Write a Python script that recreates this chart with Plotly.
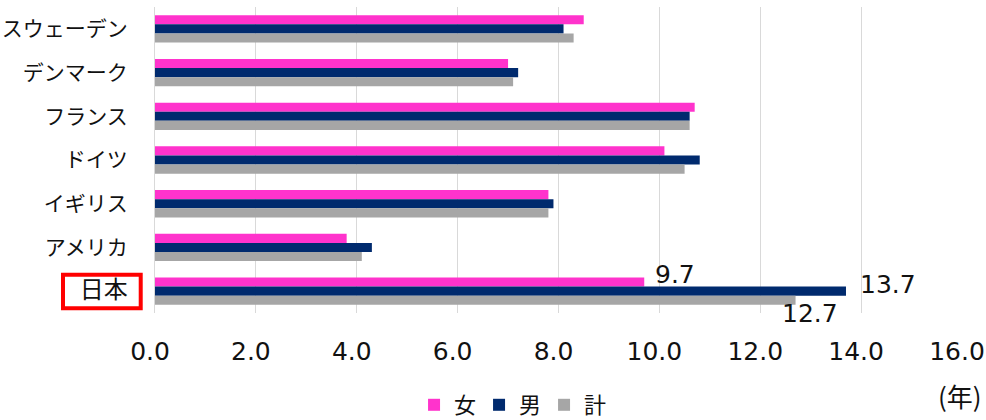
import plotly.graph_objects as go

# Countries, listed top to bottom
countries = ["スウェーデン", "デンマーク", "フランス", "ドイツ", "イギリス", "アメリカ", "日本"]

# Values (years) by sex
women = [8.5, 7.0, 10.7, 10.1, 7.8, 3.8, 9.7]
men = [8.1, 7.2, 10.6, 10.8, 7.9, 4.3, 13.7]
total = [8.3, 7.1, 10.6, 10.5, 7.8, 4.1, 12.7]

series_names = ["女", "男", "計"]
series_values = [women, men, total]
series_colors = ["#FF33CC", "#002A6E", "#A6A6A6"]

x_ticks = [0, 2, 4, 6, 8, 10, 12, 14, 16]

NUM_FONT = "DejaVu Sans, Noto Sans CJK JP, sans-serif"
JP_FONT = "Noto Sans CJK JP, sans-serif"

HIGHLIGHT = "日本"

fig = go.Figure()
for name, vals, color in zip(series_names, series_values, series_colors):
    fig.add_trace(go.Bar(
        name=name, y=countries, x=vals, orientation="h",
        marker=dict(color=color, line=dict(width=0)),
        hoverinfo="x+y",
    ))

# Value labels for the highlighted country
hl = countries.index(HIGHLIGHT)
label_offsets = [  # (xshift, yshift) per series
    (9, 17),
    (12, 7),
    (-16, -22),
]
for vals, (dx, dy) in zip(series_values, label_offsets):
    fig.add_annotation(
        x=vals[hl], y=countries[hl], xref="x", yref="y",
        text=f"{vals[hl]:.1f}", showarrow=False,
        xanchor="left", yanchor="middle", xshift=dx, yshift=dy,
        font=dict(family=NUM_FONT, size=25, color="#111111"),
    )

# Unit label
fig.add_annotation(
    x=1.027, y=-0.27, xref="paper", yref="paper",
    text="(年)", showarrow=False, xanchor="right", yanchor="middle",
    font=dict(family=JP_FONT, size=26, color="#111111"),
)

# Red frame around the highlighted category label
fig.add_shape(
    type="rect", xref="paper", yref="paper",
    x0=-0.1140, x1=-0.0177, y0=0.0154, y1=0.1252,
    line=dict(color="#FF0000", width=4), fillcolor="rgba(0,0,0,0)",
)

y_ticktext = [
    f'<span style="font-size:24px">{c}</span>' if c == HIGHLIGHT else c
    for c in countries
]

fig.update_layout(
    width=986, height=420,
    margin=dict(l=155, r=24, t=7, b=107, autoexpand=False),
    paper_bgcolor="white", plot_bgcolor="white",
    barmode="group", bargap=0.375, bargroupgap=0,
    showlegend=True,
    legend=dict(
        orientation="h", x=0.321, xanchor="left", y=-0.232, yanchor="top",
        font=dict(family=JP_FONT, size=22, color="#111111"),
        entrywidth=20, entrywidthmode="pixels",
        itemclick=False, itemdoubleclick=False, traceorder="normal",
    ),
    xaxis=dict(
        range=[0, 16], tickvals=x_ticks, tickformat=".1f",
        showgrid=True, gridcolor="#D9D9D9", gridwidth=1,
        zeroline=False, showline=False, ticks="",
        ticklabelstandoff=21, ticklabelshift=-5,
        automargin=False, ticklabeloverflow="allow",
        tickfont=dict(family=NUM_FONT, size=25, color="#111111"),
        fixedrange=True,
    ),
    yaxis=dict(
        type="category",
        categoryorder="array", categoryarray=countries,
        range=[len(countries) - 0.5, -0.5],
        tickmode="array", tickvals=countries, ticktext=y_ticktext,
        showgrid=False, zeroline=False,
        showline=True, linecolor="#D9D9D9", linewidth=1,
        ticks="", ticklabelstandoff=22, automargin=False,
        tickfont=dict(family=JP_FONT, size=21, color="#111111"),
        fixedrange=True,
    ),
)

fig.write_html("out.html")
